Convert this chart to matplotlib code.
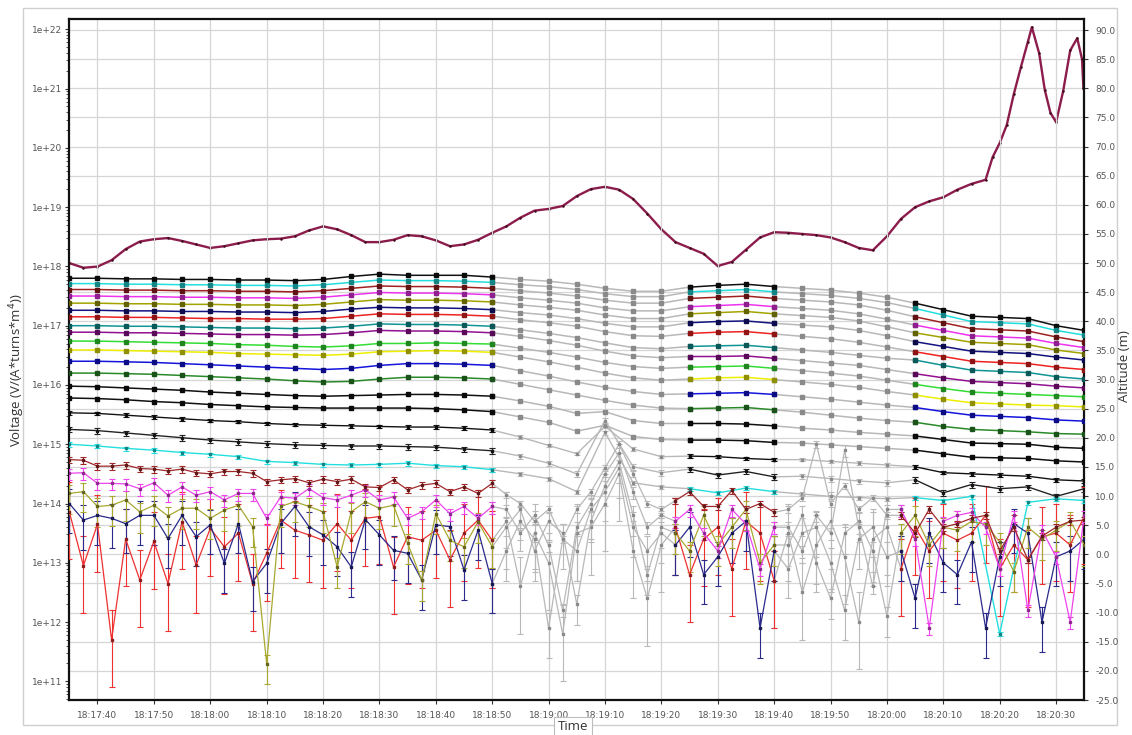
import datetime as dt

import matplotlib
matplotlib.use("Agg")
import matplotlib.pyplot as plt
import numpy as np
from matplotlib.colors import to_rgb
from matplotlib.patches import Rectangle
from matplotlib.ticker import FixedLocator, FuncFormatter, LogLocator, NullFormatter

START = dt.datetime(2000, 1, 1, 18, 17, 35)

# sample times, seconds after 18:17:35
t_slow = np.arange(0, 181, 5.0)
t_fast = np.arange(0, 180.1, 2.5)

# ---- altitude (m), right axis ----
alt_sec = np.r_[np.arange(0, 163, 2.5),
                [163.75, 165.0, 166.25, 167.5, 168.75, 170.0, 170.7, 172.0, 173.0,
                 174.0, 175.0, 176.25, 177.5, 178.75, 179.6, 179.85]]
alt_m = [50.0, 49.2, 49.4, 50.5, 52.4, 53.7, 54.1, 54.3, 53.8, 53.2,
         52.6, 52.9, 53.4, 53.9, 54.1, 54.2, 54.6, 55.6, 56.3, 55.8,
         54.8, 53.6, 53.6, 54.0, 54.8, 54.6, 53.9, 52.9, 53.2, 54.0,
         55.2, 56.3, 57.8, 59.0, 59.3, 59.8, 61.5, 62.7, 63.1, 62.6,
         61.0, 58.5, 55.8, 53.6, 52.6, 51.6, 49.5, 50.2, 52.3, 54.4,
         55.3, 55.2, 55.0, 54.8, 54.4, 53.6, 52.6, 52.2, 54.6, 57.6,
         59.6, 60.6, 61.3, 62.6, 63.6, 64.3,
         68.2, 70.6, 73.7, 79.0, 83.6, 88.0, 90.5, 86.0, 79.7,
         75.8, 74.2, 79.5, 86.5, 88.6, 85.0, 80.0]

# ---- voltage channels, log10 of V/(A*turns*m^4), sampled on t_slow ----
ch01 = [17.80, 17.80, 17.79, 17.79, 17.78, 17.78, 17.77, 17.77, 17.76, 17.78,
        17.83, 17.87, 17.85, 17.85, 17.85, 17.82, 17.78, 17.75, 17.70, 17.63,
        17.58, 17.58, 17.65, 17.68, 17.70, 17.66, 17.63, 17.60, 17.55, 17.48,
        17.38, 17.27, 17.16, 17.14, 17.12, 17.00, 16.92]
ch02 = [17.71, 17.71, 17.70, 17.70, 17.69, 17.69, 17.68, 17.68, 17.67, 17.69,
        17.73, 17.77, 17.76, 17.76, 17.75, 17.73, 17.69, 17.66, 17.61, 17.54,
        17.49, 17.49, 17.57, 17.59, 17.61, 17.57, 17.54, 17.51, 17.46, 17.39,
        17.29, 17.18, 17.07, 17.05, 17.03, 16.92, 16.84]
ch03 = [17.61, 17.61, 17.60, 17.60, 17.59, 17.59, 17.58, 17.58, 17.57, 17.59,
        17.63, 17.67, 17.66, 17.66, 17.65, 17.63, 17.59, 17.55, 17.50, 17.43,
        17.38, 17.38, 17.46, 17.48, 17.50, 17.46, 17.43, 17.40, 17.35, 17.26,
        17.15, 17.05, 16.95, 16.93, 16.91, 16.81, 16.73]
ch04 = [17.50, 17.50, 17.49, 17.49, 17.48, 17.48, 17.47, 17.47, 17.46, 17.48,
        17.52, 17.56, 17.55, 17.55, 17.54, 17.52, 17.47, 17.43, 17.38, 17.30,
        17.25, 17.25, 17.32, 17.34, 17.36, 17.32, 17.29, 17.26, 17.20, 17.11,
        17.01, 16.92, 16.83, 16.81, 16.79, 16.70, 16.63]
ch05 = [17.38, 17.38, 17.37, 17.37, 17.36, 17.36, 17.35, 17.35, 17.34, 17.36,
        17.40, 17.44, 17.43, 17.43, 17.42, 17.40, 17.35, 17.31, 17.26, 17.18,
        17.12, 17.12, 17.20, 17.22, 17.24, 17.20, 17.17, 17.14, 17.08, 16.98,
        16.88, 16.80, 16.72, 16.70, 16.68, 16.59, 16.53]
ch06 = [17.26, 17.26, 17.25, 17.25, 17.24, 17.24, 17.23, 17.23, 17.22, 17.24,
        17.28, 17.31, 17.30, 17.30, 17.29, 17.27, 17.22, 17.18, 17.12, 17.04,
        16.98, 16.98, 17.05, 17.07, 17.08, 17.04, 17.01, 16.98, 16.92, 16.83,
        16.73, 16.65, 16.57, 16.55, 16.53, 16.47, 16.42]
ch07 = [17.15, 17.15, 17.14, 17.14, 17.13, 17.12, 17.12, 17.11, 17.11, 17.12,
        17.16, 17.20, 17.19, 17.19, 17.18, 17.16, 17.10, 17.05, 16.99, 16.90,
        16.83, 16.82, 16.87, 16.89, 16.90, 16.86, 16.82, 16.78, 16.72, 16.64,
        16.56, 16.48, 16.40, 16.38, 16.36, 16.30, 16.26]
ch08 = [17.00, 17.00, 16.99, 16.99, 16.98, 16.97, 16.96, 16.96, 16.95, 16.96,
        16.99, 17.03, 17.02, 17.02, 17.01, 16.99, 16.93, 16.87, 16.80, 16.71,
        16.63, 16.61, 16.65, 16.66, 16.67, 16.63, 16.59, 16.55, 16.50, 16.45,
        16.42, 16.33, 16.25, 16.23, 16.21, 16.14, 16.10]
ch09 = [16.89, 16.89, 16.88, 16.88, 16.87, 16.86, 16.85, 16.85, 16.84, 16.85,
        16.88, 16.92, 16.91, 16.91, 16.90, 16.88, 16.82, 16.75, 16.67, 16.57,
        16.49, 16.46, 16.48, 16.48, 16.49, 16.45, 16.41, 16.37, 16.33, 16.26,
        16.19, 16.12, 16.06, 16.04, 16.02, 15.98, 15.95]
ch10 = [16.74, 16.74, 16.73, 16.72, 16.71, 16.70, 16.68, 16.67, 16.65, 16.64,
        16.66, 16.70, 16.70, 16.71, 16.70, 16.69, 16.62, 16.55, 16.47, 16.38,
        16.31, 16.28, 16.30, 16.31, 16.32, 16.28, 16.24, 16.20, 16.15, 16.08,
        16.01, 15.94, 15.88, 15.86, 15.84, 15.82, 15.80]
ch11 = [16.59, 16.59, 16.58, 16.57, 16.56, 16.55, 16.53, 16.52, 16.51, 16.50,
        16.52, 16.56, 16.57, 16.58, 16.57, 16.55, 16.47, 16.39, 16.30, 16.20,
        16.12, 16.08, 16.10, 16.12, 16.13, 16.09, 16.05, 16.01, 15.96, 15.89,
        15.83, 15.76, 15.70, 15.68, 15.66, 15.65, 15.63]
ch12 = [16.40, 16.40, 16.39, 16.38, 16.36, 16.34, 16.32, 16.30, 16.28, 16.26,
        16.28, 16.33, 16.36, 16.36, 16.35, 16.33, 16.24, 16.15, 16.05, 15.96,
        15.89, 15.84, 15.85, 15.86, 15.87, 15.84, 15.80, 15.76, 15.71, 15.66,
        15.62, 15.55, 15.49, 15.47, 15.45, 15.41, 15.39]
ch13 = [16.20, 16.20, 16.19, 16.18, 16.16, 16.14, 16.12, 16.10, 16.07, 16.05,
        16.06, 16.10, 16.13, 16.13, 16.12, 16.10, 16.01, 15.92, 15.83, 15.74,
        15.66, 15.61, 15.60, 15.61, 15.62, 15.58, 15.54, 15.49, 15.44, 15.40,
        15.37, 15.30, 15.25, 15.23, 15.21, 15.18, 15.17]
ch14 = [15.98, 15.97, 15.95, 15.93, 15.91, 15.88, 15.86, 15.84, 15.82, 15.81,
        15.82, 15.83, 15.84, 15.84, 15.83, 15.81, 15.73, 15.64, 15.52, 15.55,
        15.40, 15.35, 15.35, 15.35, 15.34, 15.31, 15.27, 15.24, 15.20, 15.17,
        15.14, 15.08, 15.02, 15.01, 15.00, 14.95, 14.93]
ch15 = [15.78, 15.77, 15.75, 15.72, 15.70, 15.67, 15.65, 15.63, 15.62, 15.61,
        15.61, 15.61, 15.61, 15.60, 15.58, 15.55, 15.46, 15.37, 15.22, 15.32,
        15.13, 15.08, 15.07, 15.07, 15.06, 15.03, 15.02, 14.99, 14.96, 14.93,
        14.90, 14.84, 14.78, 14.77, 14.76, 14.72, 14.70]
ch16 = [15.53, 15.52, 15.49, 15.46, 15.43, 15.40, 15.38, 15.35, 15.33, 15.32,
        15.31, 15.30, 15.29, 15.29, 15.27, 15.24, 15.12, 14.98, 14.84, 15.30,
        14.92, 14.79, 14.80, 14.79, 14.76, 14.74, 14.74, 14.71, 14.68, 14.65,
        14.62, 14.52, 14.50, 14.48, 14.46, 14.40, 14.38]
ch17 = [15.25, 15.23, 15.19, 15.15, 15.11, 15.07, 15.04, 15.01, 14.99, 14.98,
        14.97, 14.97, 14.96, 14.95, 14.92, 14.89, 14.80, 14.68, 14.50, 15.40,
        14.62, 14.52, 14.58, 14.48, 14.54, 14.45, 14.46, 14.42, 14.38, 14.35,
        14.40, 14.18, 14.32, 14.25, 14.28, 14.12, 14.25]
ch18 = [15.00, 14.97, 14.93, 14.90, 14.86, 14.83, 14.79, 14.71, 14.69, 14.66,
        14.65, 14.66, 14.68, 14.64, 14.62, 14.57, 14.50, 14.42, 14.20, 15.20,
        14.35, 14.28, 14.25, 14.18, 14.26, 14.20, 14.16, 14.12, 14.10, 14.08,
        14.10, 14.05, 14.12, 11.80, 14.02, 14.08, 14.05]

# ---- low channels, sampled on t_fast ----
ch19 = [14.74, 14.73, 14.63, 14.63, 14.65, 14.59, 14.58, 14.55, 14.58, 14.52,
        14.50, 14.54, 14.54, 14.51, 14.37, 14.40, 14.42, 14.35, 14.41, 14.37,
        14.41, 14.28, 14.27, 14.40, 14.23, 14.31, 14.34, 14.20, 14.28, 14.17,
        14.34, 14.15, 14.00, 13.70, 13.90, 13.40, 13.90, 14.20, 14.60, 15.00,
        14.50, 14.00, 13.90, 14.05, 14.20, 13.95, 13.95, 14.22, 13.90, 14.00,
        13.85, 13.90, 14.10, 15.00, 14.00, 14.30, 13.90, 14.10, 13.80, 13.80,
        13.50, 13.90, 13.60, 13.66, 13.75, 13.80, 13.20, 13.60, 13.05, 13.45,
        13.60, 13.70, 13.72]
ch20 = [14.51, 14.52, 14.34, 14.34, 14.33, 14.25, 14.35, 14.14, 14.28, 14.14,
        14.20, 14.06, 14.17, 14.17, 13.75, 14.11, 14.09, 14.25, 14.10, 14.06,
        14.14, 14.23, 14.06, 14.11, 13.75, 13.86, 14.06, 13.83, 13.95, 13.75,
        13.95, 13.90, 13.50, 13.80, 13.30, 12.20, 13.60, 14.00, 14.50, 14.85,
        14.20, 13.60, 13.80, 13.70, 13.90, 13.50, 13.20, 13.90, 13.65, 12.90,
        13.60, 13.60, 13.20, 13.80, 13.50, 14.90, 13.60, 12.60, 13.90, 13.90,
        13.40, 11.90, 13.70, 13.80, 13.85, 13.60, 12.90, 13.80, 12.20, 13.55,
        13.10, 12.00, 13.80]
ch21 = [14.17, 14.20, 13.95, 13.97, 14.06, 13.86, 13.97, 13.79, 13.92, 13.92,
        13.75, 13.89, 13.97, 13.61, 11.30, 13.95, 14.03, 13.95, 13.86, 12.93,
        13.86, 14.03, 13.92, 13.97, 13.33, 12.71, 13.83, 13.38, 13.27, 13.69,
        13.27, 13.60, 13.90, 13.20, 13.70, 13.50, 12.30, 13.70, 14.30, 14.70,
        13.80, 12.80, 13.60, 13.50, 13.20, 13.80, 13.30, 13.60, 13.90, 13.00,
        13.30, 13.30, 13.80, 13.00, 12.40, 13.50, 13.70, 13.20, 12.10, 13.50,
        13.80, 13.30, 13.60, 13.55, 13.70, 13.65, 13.35, 12.85, 13.60, 13.40,
        13.55, 13.70, 13.30]
ch22 = [14.00, 13.72, 13.80, 13.75, 13.66, 13.80, 13.80, 13.41, 13.80, 13.44,
        13.64, 12.99, 13.66, 12.68, 12.99, 13.66, 13.95, 13.61, 13.47, 13.27,
        12.93, 13.73, 13.47, 13.21, 13.16, 12.71, 13.64, 13.61, 12.88, 13.55,
        12.65, 13.20, 13.70, 13.40, 11.90, 13.40, 13.20, 13.90, 14.20, 14.60,
        13.60, 13.20, 13.50, 13.30, 13.60, 12.80, 13.10, 13.50, 13.70, 11.90,
        13.20, 12.90, 13.50, 13.60, 13.00, 12.20, 13.40, 13.60, 13.10, 13.20,
        12.40, 13.50, 13.00, 12.80, 13.35, 11.90, 13.10, 13.66, 13.50, 12.00,
        13.10, 13.20, 13.40]
ch23 = [13.86, 12.95, 13.65, 11.70, 13.40, 12.71, 13.36, 12.65, 13.69, 12.96,
        13.58, 13.27, 13.50, 12.65, 13.16, 13.72, 13.55, 13.47, 13.38, 13.66,
        13.38, 13.75, 13.78, 12.93, 13.44, 13.38, 13.55, 13.05, 13.50, 13.72,
        13.38, 13.70, 12.60, 13.50, 13.00, 11.80, 13.50, 13.60, 14.00, 14.50,
        13.20, 12.40, 13.30, 13.60, 12.80, 13.40, 13.60, 12.90, 13.70, 13.50,
        12.70, 13.50, 12.50, 13.30, 13.70, 13.10, 12.00, 13.40, 13.60, 12.90,
        13.60, 13.20, 13.50, 13.38, 13.50, 13.80, 12.90, 13.30, 13.05, 13.44,
        13.50, 13.30, 13.78]

# error half-widths in decades (below, above)
err16 = (0.03, 0.03)
err17 = (0.05, 0.04)
err18 = (0.04, 0.03)
err19 = (0.06, 0.05)
err20 = (0.12, 0.08)
err21 = (0.35, 0.15)
err22 = (0.50, 0.25)
err23 = (0.80, 0.50)

GREY = "#b8b8b8"


def darken(c, f=0.6):
    r, g, b = to_rgb(c)
    return (r * f, g * f, b * f)


def hms(v, pos):
    return (START + dt.timedelta(seconds=float(v))).strftime("%H:%M:%S")


fig = plt.figure(figsize=(11.32, 7.35), dpi=100)
ax = fig.add_axes([69.3 / 1132, 1 - 700 / 735, (1084 - 69.3) / 1132, 681 / 735])
ax2 = ax.twinx()
ax.set_zorder(2)
ax2.set_zorder(1)
ax.patch.set_visible(False)


def draw(t, logv, color, err=None, lw=1.1, ms=2.3):
    t = np.asarray(t)
    v = 10.0 ** np.asarray(logv)
    lit = (t <= 75) | ((t >= 107.5) & (t <= 125)) | (t >= 147.5)
    off = ~lit
    grey = off | np.r_[off[1:], False] | np.r_[False, off[:-1]]
    for mask, col, z in ((grey, GREY, 2), (lit, color, 3)):
        y = np.where(mask, v, np.nan)
        mc = darken(col, 0.75 if col == GREY else 0.6)
        if err is None:
            ax.plot(t, y, "-", color=col, lw=lw, marker="s", ms=ms,
                    mfc=mc, mec=mc, zorder=z)
        else:
            lo, hi = err
            yerr = np.vstack([y - y * 10 ** -lo, y * 10 ** hi - y])
            ax.errorbar(t, y, yerr=yerr, fmt="-", color=col, lw=lw * 0.9,
                        marker="s", ms=ms * 0.85, mfc=mc, mec=mc,
                        elinewidth=0.8, capsize=2, capthick=0.8, zorder=z)


flat = [
    (ch01, "#111111"), (ch02, "#22dede"), (ch03, "#a02020"), (ch04, "#ee33ee"),
    (ch05, "#a3a300"), (ch06, "#121280"), (ch07, "#ee2222"), (ch08, "#109494"),
    (ch09, "#921092"), (ch10, "#33dd33"), (ch11, "#eeee00"), (ch12, "#1414dd"),
    (ch13, "#2a8a2a"), (ch14, "#111111"), (ch15, "#111111"),
]
for vals, col in flat:
    draw(t_slow, vals, col)

draw(t_slow, ch16, "#111111", err16)
draw(t_slow, ch17, "#222222", err17)
draw(t_slow, ch18, "#22dede", err18)

noisy = [
    (ch23, "#ee3030", err23), (ch22, "#2a2a8c", err22), (ch21, "#a8a830", err21),
    (ch20, "#ee44ee", err20), (ch19, "#a0282a", err19),
]
for vals, col, err in noisy:
    draw(t_fast, vals, col, err, lw=1.0, ms=2.2)

# altitude on the right axis
ax2.plot(alt_sec, alt_m, color="#8c1c4c", lw=1.7, marker="o", ms=1.8,
         mfc="#3a0a1a", mec="none", zorder=3)

# axes ranges and ticks
ax.set_xlim(0, 179.95)
ax.set_yscale("log")
ax.set_ylim(10 ** 10.685, 10 ** 22.174)
ax2.set_ylim(-25, 91.9)

ax.xaxis.set_major_locator(FixedLocator(np.arange(5.0, 180.0, 10.0)))
ax.xaxis.set_major_formatter(FuncFormatter(hms))
ax.yaxis.set_major_locator(LogLocator(base=10, numticks=30))
ax.yaxis.set_minor_locator(LogLocator(base=10, subs=np.arange(2, 10), numticks=30))
ax.yaxis.set_major_formatter(FuncFormatter(lambda v, p: f"1e+{int(round(np.log10(v)))}"))
ax.yaxis.set_minor_formatter(NullFormatter())
ax2.yaxis.set_major_locator(FixedLocator(np.arange(-25, 91, 5)))
ax2.yaxis.set_major_formatter(FuncFormatter(lambda v, p: f"{v:.1f}"))

tick_kw = dict(labelsize=6.5, labelcolor="#555555", color="#333333")
ax.tick_params(axis="x", length=3, width=0.8, pad=5, **tick_kw)
ax.tick_params(axis="y", which="major", length=3, width=0.8, pad=2, **tick_kw)
ax.tick_params(axis="y", which="minor", length=2, width=0.6, color="#333333")
ax2.tick_params(axis="y", length=3, width=0.8, pad=5, **tick_kw)

ax.grid(True, axis="x", color="#d6d6d6", lw=0.9)
ax.set_axisbelow(True)
ax2.grid(True, axis="y", color="#d6d6d6", lw=0.9)
ax2.set_axisbelow(True)

for sp in ax.spines.values():
    sp.set_linewidth(1.6)
    sp.set_color("#111111")
for sp in ax2.spines.values():
    sp.set_visible(False)

# labels
fig.text(17 / 1132, 1 - 370 / 735, "Voltage (V/(A*turns*m$^{4}$))", rotation=90,
         ha="center", va="center", fontsize=9.5, color="#333333", family="Open Sans")
fig.text(1124 / 1132, 1 - 366 / 735, "Altitude (m)", rotation=90,
         ha="center", va="center", fontsize=9.5, color="#333333", family="Open Sans")

# panel frame with the axis caption set into its bottom edge
fig.add_artist(Rectangle((23 / 1132, 1 - 725 / 735), (1117 - 23) / 1132, 717 / 735,
                         transform=fig.transFigure, fill=False, ec="#cfcfcf", lw=1))
fig.text(573 / 1132, 1 - 727 / 735, "Time", ha="center", va="center", fontsize=9.5,
         color="#333333", family="Open Sans",
         bbox=dict(boxstyle="square,pad=0.3", fc="white", ec="#bdbdbd", lw=0.8))

fig.savefig("out.png", dpi=100)
